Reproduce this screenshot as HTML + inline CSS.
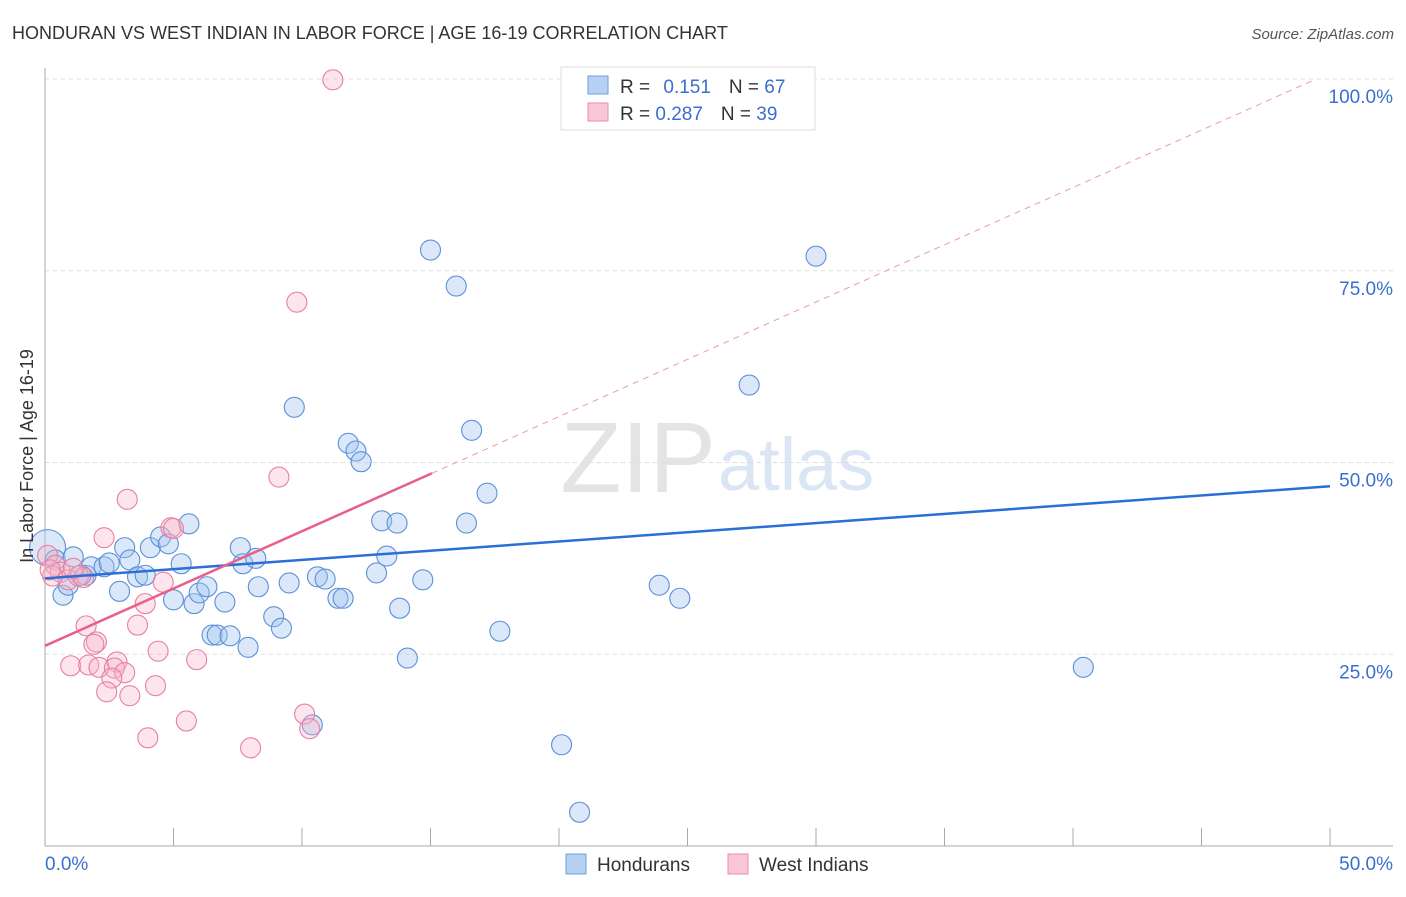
<!DOCTYPE html>
<html><head><meta charset="utf-8"><style>
body{margin:0;background:#fff;font-family:"Liberation Sans",sans-serif;}
svg text{font-family:"Liberation Sans",sans-serif;}
</style></head><body>
<svg id="c" width="1406" height="892">
<text x="12" y="39" font-size="18" fill="#333">HONDURAN VS WEST INDIAN IN LABOR FORCE | AGE 16-19 CORRELATION CHART</text>
<text x="1394" y="39" font-size="15" fill="#555" font-style="italic" text-anchor="end">Source: ZipAtlas.com</text>
<text x="716" y="492" font-size="100" fill="#e4e4e4" font-family="Liberation Serif" text-anchor="end">ZIP</text>
<text x="718" y="490" font-size="74" fill="#dbe6f5">atlas</text>
<g id="grid"></g>
<g id="axes"></g>
<g id="lines"></g>
<g id="pts"></g>
<text transform="translate(33,456) rotate(-90)" font-size="18" fill="#333" text-anchor="middle">In Labor Force | Age 16-19</text>
<g>
<rect x="561" y="67" width="254" height="63" fill="#fff" stroke="#ddd"/>
<rect x="588" y="76" width="20" height="18" fill="#b7d1f3" stroke="#6e9fe0"/>
<rect x="588" y="103" width="20" height="18" fill="#f9c6d5" stroke="#ea8eab"/>
<text x="620" y="93" font-size="19" fill="#333">R = <tspan fill="#3a6fd0" dx="8">0.151</tspan><tspan dx="18" fill="#333">N = </tspan><tspan fill="#3a6fd0">67</tspan></text>
<text x="620" y="120" font-size="19" fill="#333">R = <tspan fill="#3a6fd0">0.287</tspan><tspan dx="18" fill="#333">N = </tspan><tspan fill="#3a6fd0">39</tspan></text>
</g>
<g>
<rect x="566" y="854" width="20" height="20" fill="#b7d1f3" stroke="#6e9fe0"/>
<text x="597" y="871" font-size="19" fill="#333">Hondurans</text>
<rect x="728" y="854" width="20" height="20" fill="#f9c6d5" stroke="#ea8eab"/>
<text x="759" y="871" font-size="19" fill="#333">West Indians</text>
</g>
</svg>
<script>
const blueX=[0.1,0.4,0.7,0.9,1.1,1.6,1.8,2.3,2.5,2.9,3.1,3.3,3.6,3.9,4.1,4.5,4.8,5.0,5.3,5.6,5.8,6.0,6.3,6.5,6.7,7.0,7.2,7.6,7.7,7.9,8.2,8.3,8.9,9.2,9.5,9.7,10.6,10.9,11.4,11.6,11.8,12.1,12.3,12.9,13.1,13.3,13.7,13.8,14.1,14.7,15.0,16.0,16.4,16.6,17.2,17.7,20.1,20.8,23.9,24.7,27.4,30.0,40.4,10.4,1.4];
const blueY=[38.9,37.3,32.7,34.0,37.7,35.3,36.4,36.4,36.9,33.2,38.9,37.3,35.1,35.3,38.9,40.3,39.4,32.1,36.8,42.0,31.6,33.0,33.8,27.5,27.5,31.8,27.4,38.9,36.8,25.9,37.5,33.8,29.9,28.4,34.3,57.2,35.1,34.8,32.3,32.3,52.5,51.5,50.1,35.6,42.4,37.8,42.1,31.0,24.5,34.7,77.7,73.0,42.1,54.2,46.0,28.0,13.2,4.4,34.0,32.3,60.1,76.9,23.3,15.8,35.3];
const pinkX=[11.2,9.8,9.1,3.2,2.3,4.9,5.0,4.6,3.9,3.6,1.6,2.0,1.9,1.0,1.7,2.1,2.8,2.7,3.1,2.6,4.4,5.9,4.3,2.4,3.3,5.5,4.0,8.0,10.1,10.3,0.1,0.4,0.6,0.9,1.3,0.3,1.5,0.2,1.1];
const pinkY=[99.9,70.9,48.1,45.2,40.2,41.5,41.4,34.4,31.6,28.8,28.7,26.6,26.3,23.5,23.6,23.3,24.0,23.2,22.6,21.9,25.4,24.3,20.9,20.1,19.6,16.3,14.1,12.8,17.2,15.3,37.9,36.6,35.7,34.7,35.2,35.2,35.0,36.0,36.2];
const yTicks=[25,50,75,100];
const xTickLabels=["0.0%","50.0%"];
const blueLine=[34.9,46.9];
const pinkLine=[26.1,48.6,15.06];
const X=v=>45+v*25.7, Y=v=>846-v*7.67;
const ns="http://www.w3.org/2000/svg";
function mk(p,t,a){const e=document.createElementNS(ns,t);for(const k in a)e.setAttribute(k,a[k]);p.appendChild(e);return e;}
const grid=document.getElementById('grid'),axes=document.getElementById('axes'),lines=document.getElementById('lines'),pts=document.getElementById('pts');
yTicks.forEach(t=>{
 const l=mk(grid,'line',{x1:45,x2:1393,y1:Y(t),y2:Y(t),stroke:'#ddd','stroke-dasharray':'4,4'});
 
 
 const tx=mk(grid,'text',{x:1393,y:Y(t)+24,'font-size':19,fill:'#3a6fd0','text-anchor':'end'});
 tx.textContent=t.toFixed(1)+'%';
 
 
});
mk(axes,'line',{x1:45,x2:45,y1:68,y2:846,stroke:'#aaa'});
mk(axes,'line',{x1:45,x2:1393,y1:846,y2:846,stroke:'#aaa'});
for(let i=0;i<=10;i++){const x=X(i*5);mk(axes,'line',{x1:x,x2:x,y1:828,y2:846,stroke:'#aaa'});}
const xl0=mk(axes,'text',{x:45,y:870,'font-size':19,fill:'#3a6fd0'});xl0.textContent=xTickLabels[0];


const xl1=mk(axes,'text',{x:1393,y:870,'font-size':19,fill:'#3a6fd0','text-anchor':'end'});xl1.textContent=xTickLabels[1];


const slope=(pinkLine[1]-pinkLine[0])/pinkLine[2];
const xEnd=(100-pinkLine[0])/slope;
const pd=mk(lines,'line',{x1:X(pinkLine[2]),y1:Y(pinkLine[1]),x2:X(xEnd),y2:Y(100),stroke:'#e89ab2','stroke-dasharray':'6,5','stroke-width':1});


blueX.forEach((v,i)=>{
 const c=mk(pts,'circle',{cx:X(v),cy:Y(blueY[i]),r:i==0?18:10,fill:'rgba(160,195,240,0.38)',stroke:'#5b8fd6','stroke-width':1.1});
 
 
});
pinkX.forEach((v,i)=>{
 const c=mk(pts,'circle',{cx:X(v),cy:Y(pinkY[i]),r:10,fill:'rgba(247,180,201,0.35)',stroke:'#e87fa0','stroke-width':1.1});
 
 
});
const bl=mk(lines.parentNode,'line',{x1:X(0),y1:Y(blueLine[0]),x2:X(50),y2:Y(blueLine[1]),stroke:'#2a6fd6','stroke-width':2.5});


const pl=mk(lines.parentNode,'line',{x1:X(0),y1:Y(pinkLine[0]),x2:X(pinkLine[2]),y2:Y(pinkLine[1]),stroke:'#e8608a','stroke-width':2.5});


</script>
</body></html>
